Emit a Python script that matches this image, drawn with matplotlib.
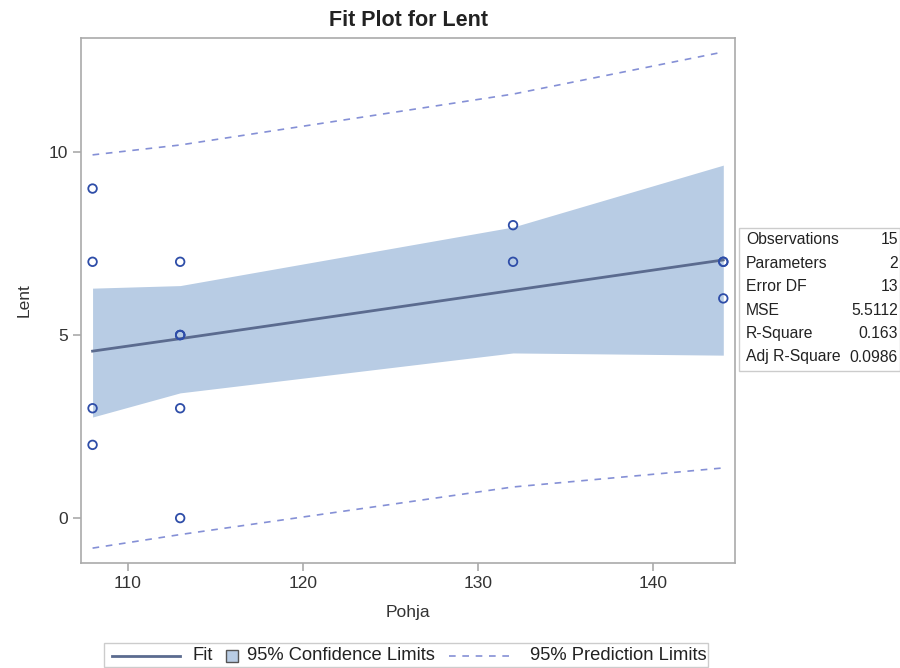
import matplotlib.pyplot as plt
from matplotlib.lines import Line2D
from matplotlib.patches import Rectangle

plt.rcParams['font.family'] = ['Liberation Sans', 'DejaVu Sans']

# observed points (Pohja, Lent)
pohja = [108, 108, 108, 108, 113, 113, 113, 113, 113, 113, 132, 132, 144, 144, 144]
lent = [9, 7, 3, 2, 7, 5, 5, 5, 3, 0, 8, 7, 7, 7, 6]

# fit, confidence and prediction limits
x_fit = [108, 113, 132, 144]
fit = [4.56, 4.90, 6.22, 7.05]
cl_lo = [2.76, 3.42, 4.51, 4.45]
cl_hi = [6.28, 6.35, 7.95, 9.64]
pl_lo = [-0.82, -0.45, 0.85, 1.37]
pl_hi = [9.92, 10.19, 11.58, 12.73]

stat_names = ['Observations', 'Parameters', 'Error DF', 'MSE', 'R-Square', 'Adj R-Square']
stat_vals = ['15', '2', '13', '5.5112', '0.163', '0.0986']

band_col = '#B8CCE4'
fit_col = '#5B6B8F'
pred_col = '#8590D6'
mark_col = '#2E4DA8'
frame_col = '#AAAAAA'

W, H = 900, 668
fig = plt.figure(figsize=(9, 6.68), dpi=100)
ax = fig.add_axes([0.09, 0.157, 0.7267, 0.786])

ax.fill_between(x_fit, cl_lo, cl_hi, color=band_col, lw=0, zorder=1)
ax.plot(x_fit, fit, color=fit_col, lw=2, zorder=3)
ax.plot(x_fit, pl_lo, color=pred_col, lw=1.2, ls=(0, (4, 4)), zorder=2)
ax.plot(x_fit, pl_hi, color=pred_col, lw=1.2, ls=(0, (4, 4)), zorder=2)
ax.scatter(pohja, lent, s=38, facecolors='none', edgecolors=mark_col, linewidths=1.3, zorder=4)

ax.set_xlim(107.34, 144.67)
ax.set_ylim(-1.23, 13.11)
ax.set_xticks([110, 120, 130, 140])
ax.set_yticks([0, 5, 10])
for s in ax.spines.values():
    s.set_color(frame_col)
    s.set_linewidth(1.2)
ax.tick_params(colors='#333333', labelsize=12.5, length=6, color=frame_col, width=1.2)
ax.set_xlabel('Pohja', fontsize=12.5, color='#333333', labelpad=10)
ax.set_ylabel('Lent', fontsize=12.5, color='#333333', labelpad=12)
ax.set_title('Fit Plot for Lent', fontsize=15.5, fontweight='bold', color='#222222', pad=9)


def px(x, y):
    # pixel position -> figure fraction
    return x / W, 1 - y / H


# statistics inset
fig.patches.append(Rectangle(px(739, 371), 161 / W, 143 / H,
                             transform=fig.transFigure, fill=False, ec='#CCCCCC', lw=1))
for i, (n, v) in enumerate(zip(stat_names, stat_vals)):
    yy = 240 + i * 23.4
    fig.text(*px(746, yy), n, fontsize=11.3, va='center', ha='left', color='#222222')
    fig.text(*px(898, yy), v, fontsize=11.3, va='center', ha='right', color='#222222')

# legend drawn by hand so the spacing matches
fig.patches.append(Rectangle(px(104, 667), 604 / W, 24 / H,
                             transform=fig.transFigure, fill=False, ec='#CCCCCC', lw=1))
ly = 656
fig.lines.append(Line2D([112 / W, 180 / W], [1 - ly / H] * 2, transform=fig.transFigure,
                        color=fit_col, lw=2))
fig.text(*px(192, ly), 'Fit', fontsize=13.2, va='center', ha='left', color='#222222')
fig.patches.append(Rectangle(px(226, ly + 6), 12 / W, 12 / H, transform=fig.transFigure,
                             fc=band_col, ec='#555555', lw=1))
fig.text(*px(247, ly), '95% Confidence Limits', fontsize=13.2, va='center', ha='left', color='#222222')
fig.lines.append(Line2D([449 / W, 515 / W], [1 - ly / H] * 2, transform=fig.transFigure,
                        color=pred_col, lw=1.2, ls=(0, (4, 4))))
fig.text(*px(530, ly), '95% Prediction Limits', fontsize=13.2, va='center', ha='left', color='#222222')

fig.savefig('out.png', dpi=100)
